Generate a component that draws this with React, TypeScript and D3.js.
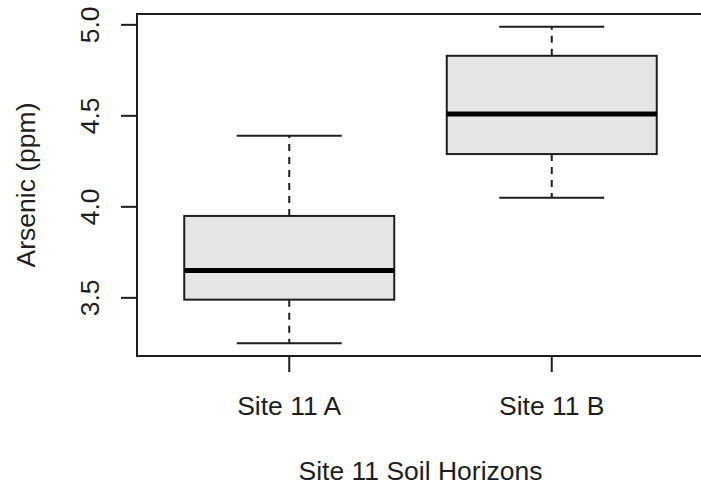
import { useEffect, useRef } from "react";
import * as d3 from "d3";

const categories = ["Site 11 A", "Site 11 B"];
const lowerWhisker = [3.25, 4.05];
const q1 = [3.49, 4.29];
const median = [3.65, 4.51];
const q3 = [3.95, 4.83];
const upperWhisker = [4.39, 4.99];
const yTicks = [3.5, 4.0, 4.5, 5.0];

export default function App() {
  const ref = useRef<HTMLDivElement>(null);

  useEffect(() => {
    const container = d3.select(ref.current);
    container.selectAll("*").remove();

    const width = 701, height = 487;
    const left = 137, right = 704, top = 14, bottom = 356;
    const font = "'Liberation Sans', Arial, sans-serif";
    const ink = "#1e1e1e";

    const svg = container.append("svg")
      .attr("width", width)
      .attr("height", height)
      .style("position", "absolute")
      .style("left", "0px")
      .style("top", "0px")
      .style("background", "#fff");

    // R style limits: 0.5..n+0.5 and data range, each padded 4%
    const n = categories.length;
    const xPad = n * 0.04;
    const x = d3.scaleLinear()
      .domain([0.5 - xPad, n + 0.5 + xPad])
      .range([left, right]);

    const lo = d3.min(lowerWhisker)!, hi = d3.max(upperWhisker)!;
    const yPad = (hi - lo) * 0.04;
    const y = d3.scaleLinear()
      .domain([lo - yPad, hi + yPad])
      .range([bottom, top]);

    const data = categories.map((c, i) => ({
      c, pos: i + 1,
      lo: lowerWhisker[i], q1: q1[i], med: median[i], q3: q3[i], hi: upperWhisker[i],
    }));

    const g = svg.append("g");
    const boxW = 0.8, capW = 0.4;

    // whiskers
    g.selectAll("line.wlo").data(data).join("line")
      .attr("x1", d => x(d.pos)).attr("x2", d => x(d.pos))
      .attr("y1", d => y(d.q1)).attr("y2", d => y(d.lo))
      .attr("stroke", ink).attr("stroke-width", 2).attr("stroke-dasharray", "7,6");
    g.selectAll("line.whi").data(data).join("line")
      .attr("x1", d => x(d.pos)).attr("x2", d => x(d.pos))
      .attr("y1", d => y(d.q3)).attr("y2", d => y(d.hi))
      .attr("stroke", ink).attr("stroke-width", 2).attr("stroke-dasharray", "7,6");

    // caps
    const caps = data.flatMap(d => [{ pos: d.pos, v: d.lo }, { pos: d.pos, v: d.hi }]);
    g.selectAll("line.cap").data(caps).join("line")
      .attr("x1", d => x(d.pos - capW / 2)).attr("x2", d => x(d.pos + capW / 2))
      .attr("y1", d => y(d.v)).attr("y2", d => y(d.v))
      .attr("stroke", ink).attr("stroke-width", 2);

    // boxes
    g.selectAll("rect.box").data(data).join("rect")
      .attr("x", d => x(d.pos - boxW / 2))
      .attr("width", d => x(d.pos + boxW / 2) - x(d.pos - boxW / 2))
      .attr("y", d => y(d.q3))
      .attr("height", d => y(d.q1) - y(d.q3))
      .attr("fill", "#e5e5e5")
      .attr("stroke", ink).attr("stroke-width", 2);

    // medians
    g.selectAll("line.med").data(data).join("line")
      .attr("x1", d => x(d.pos - boxW / 2)).attr("x2", d => x(d.pos + boxW / 2))
      .attr("y1", d => y(d.med)).attr("y2", d => y(d.med))
      .attr("stroke", "#000").attr("stroke-width", 5);

    // frame
    svg.append("rect")
      .attr("x", left).attr("y", top)
      .attr("width", right - left).attr("height", bottom - top)
      .attr("fill", "none").attr("stroke", ink).attr("stroke-width", 2);

    // y axis
    const yAxis = svg.append("g");
    yAxis.append("line")
      .attr("x1", left).attr("x2", left)
      .attr("y1", y(yTicks[0])).attr("y2", y(yTicks[yTicks.length - 1]))
      .attr("stroke", ink).attr("stroke-width", 2);
    yAxis.selectAll("line.tick").data(yTicks).join("line")
      .attr("x1", left - 16).attr("x2", left)
      .attr("y1", d => y(d)).attr("y2", d => y(d))
      .attr("stroke", ink).attr("stroke-width", 2);
    yAxis.selectAll("text").data(yTicks).join("text")
      .attr("transform", d => `translate(99,${y(d)}) rotate(-90)`)
      .attr("text-anchor", "middle")
      .attr("font-family", font).attr("font-size", 26.5).attr("fill", ink)
      .text(d => d3.format(".1f")(d));

    // x axis
    const xAxis = svg.append("g");
    xAxis.selectAll("line").data(data).join("line")
      .attr("x1", d => x(d.pos)).attr("x2", d => x(d.pos))
      .attr("y1", bottom).attr("y2", bottom + 16)
      .attr("stroke", ink).attr("stroke-width", 2);
    xAxis.selectAll("text").data(data).join("text")
      .attr("x", d => x(d.pos)).attr("y", 415)
      .attr("text-anchor", "middle")
      .attr("font-family", font).attr("font-size", 26.5).attr("fill", ink)
      .text(d => d.c);

    // titles
    svg.append("text")
      .attr("x", (left + right) / 2).attr("y", 480)
      .attr("text-anchor", "middle")
      .attr("font-family", font).attr("font-size", 26.5).attr("fill", ink)
      .text("Site 11 Soil Horizons");
    svg.append("text")
      .attr("transform", `translate(35,${(top + bottom) / 2}) rotate(-90)`)
      .attr("text-anchor", "middle")
      .attr("font-family", font).attr("font-size", 26.5).attr("fill", ink)
      .text("Arsenic (ppm)");
  }, []);

  return <div ref={ref}></div>;
}
